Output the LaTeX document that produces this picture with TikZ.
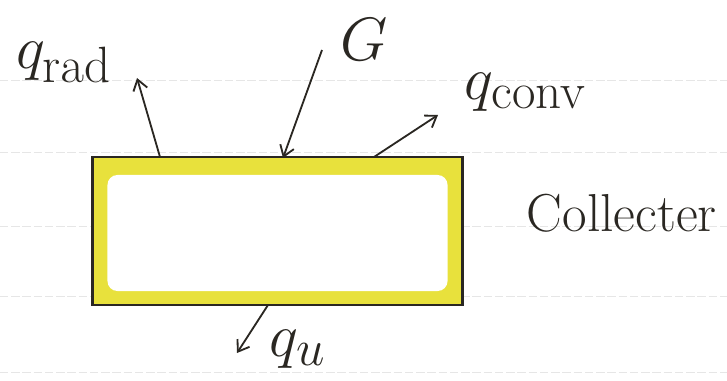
\documentclass[tikz,border=0pt]{standalone}
\usepackage{tikz}
\usetikzlibrary{arrows.meta,positioning,calc}
\definecolor{penblack}{HTML}{2A2722}
\definecolor{marker}{HTML}{E8E13C}
\definecolor{ruleline}{HTML}{E6E6E6}

\begin{document}
\begin{tikzpicture}[
  x=0.025cm,y=-0.025cm,
  collector/.style={draw=penblack,fill=marker,line width=2pt,
    minimum width=9.25cm,minimum height=3.7cm,inner sep=0pt},
  hollow/.style={fill=white,rounded corners=2.5mm,
    minimum width=8.5cm,minimum height=2.9cm,inner sep=0pt},
  arr/.style={-{Straight Barb[length=2.6mm,width=3.6mm]},line width=1.3pt,penblack},
  lbl/.style={text=penblack,font=\fontsize{38}{44}\selectfont},
  flux/.style={text=penblack,font=\Huge,scale=1.75,inner sep=0pt}
]
\useasboundingbox (0,0) rectangle (727,380);
% ruled paper
\foreach \y in {80,152,226,296,372}
  \draw[ruleline,line width=0.6pt,dash pattern=on 6pt off 2pt] (0,\y) -- (727,\y);

\node[collector] (col) at (277.5,231) {};
\node[hollow] (win) at (277.5,233) {};
\node[lbl,anchor=west] (name) at (522,213) {Collecter};

% flux arrows
\coordinate (radfoot) at (160,157);
\coordinate (radtip) at (137,78);
\coordinate (gtail) at (322,50);
\coordinate (gtip) at (283,158);
\coordinate (convfoot) at (374,157);
\coordinate (convtip) at (438,115);
\coordinate (ufoot) at (268,305);
\coordinate (utip) at (237,353);
\draw[arr] (radfoot) -- (radtip);
\draw[arr] (gtail) -- (gtip);
\draw[arr] (convfoot) -- (convtip);
\draw[arr] (ufoot) -- (utip);

\node[flux] (qrad) at (64,62) {$q_{\mathrm{rad}}$};
\node[flux] (g) at (364,40) {$G$};
\node[flux] (qconv) at (526,92) {$q_{\mathrm{conv}}$};
\node[flux] (qu) at (298,349) {$q_{u}$};
\end{tikzpicture}
\end{document}
